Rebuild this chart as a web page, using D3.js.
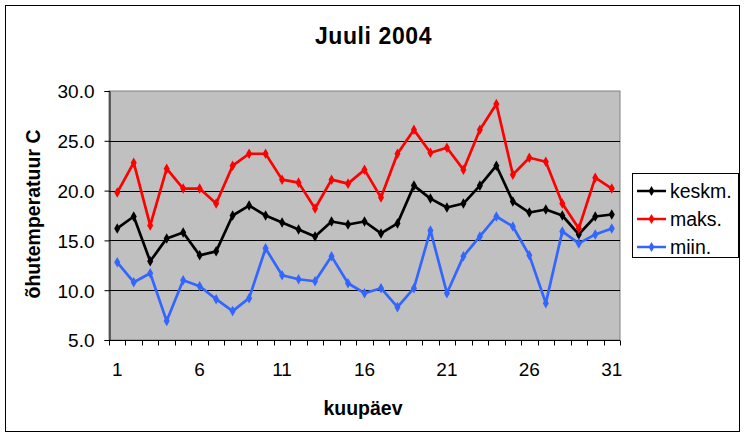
<!DOCTYPE html>
<html>
<head>
<meta charset="utf-8">
<script src="https://cdn.jsdelivr.net/npm/d3@7"></script>
<style>
html,body{margin:0;padding:0;background:#fff;}
svg{display:block;font-family:"Liberation Sans",Arial,sans-serif;}
</style>
</head>
<body>
<svg id="chart" width="748" height="437"></svg>
<script>
const days = d3.range(1, 32);
const xTickLabels = [1, 6, 11, 16, 21, 26, 31];
const yTicks = [5, 10, 15, 20, 25, 30];
const keskm = [16.2,17.4,12.9,15.2,15.8,13.5,13.9,17.5,18.5,17.5,16.8,16.1,15.4,16.9,16.6,16.9,15.7,16.7,20.5,19.2,18.3,18.7,20.5,22.5,18.9,17.8,18.1,17.5,15.6,17.4,17.6];
const maks = [19.8,22.8,16.5,22.2,20.2,20.2,18.7,22.5,23.7,23.7,21.1,20.8,18.2,21.1,20.7,22.1,19.3,23.7,26.1,23.8,24.3,22.1,26.1,28.7,21.6,23.3,22.9,18.7,16.2,21.3,20.2];
const miin = [12.8,10.8,11.7,6.9,11.0,10.4,9.1,7.9,9.2,14.2,11.5,11.1,10.9,13.4,10.7,9.7,10.2,8.3,10.2,16.0,9.7,13.4,15.4,17.4,16.4,13.5,8.7,15.9,14.7,15.6,16.2];
const seriesNames = ["keskm.", "maks.", "miin."];
const seriesColors = ["#000000", "#ff0000", "#3366ff"];
const seriesData = [keskm, maks, miin];

const svg = d3.select("#chart");
const plot = {left: 109, right: 620, top: 91, bottom: 340};

// outer border
svg.append("rect").attr("x", 5.5).attr("y", 5.5).attr("width", 734).attr("height", 426)
  .attr("fill", "#fff").attr("stroke", "#000").attr("stroke-width", 1);

const x = d3.scaleBand().domain(days).range([plot.left, plot.right]).padding(0);
const y = d3.scaleLinear().domain([5, 30]).range([plot.bottom, plot.top]);

// plot area
svg.append("rect").attr("x", plot.left).attr("y", plot.top)
  .attr("width", plot.right - plot.left).attr("height", plot.bottom - plot.top)
  .attr("fill", "#c0c0c0").attr("stroke", "#808080").attr("stroke-width", 1);

// gridlines
svg.append("g").selectAll("line").data(yTicks.filter(v => v > 5 && v < 30)).join("line")
  .attr("x1", plot.left).attr("x2", plot.right)
  .attr("y1", d => Math.round(y(d)) + 0.5).attr("y2", d => Math.round(y(d)) + 0.5)
  .attr("stroke", "#000").attr("stroke-width", 1);

// y axis
const yAxis = d3.axisLeft(y).tickValues(yTicks).tickSize(5).tickPadding(10)
  .tickFormat(d3.format(".1f"));
const gy = svg.append("g").attr("transform", `translate(${plot.left + 0.5},0)`).call(yAxis);
gy.select(".domain").attr("stroke", "#000");
gy.selectAll(".tick text").attr("font-size", 19).attr("fill", "#000").attr("dy", "0.36em");
gy.selectAll(".tick line").attr("stroke", "#000");

// x axis: ticks between categories
const gx = svg.append("g").attr("transform", `translate(0,${plot.bottom + 0.5})`);
gx.append("line").attr("x1", plot.left).attr("x2", plot.right).attr("stroke", "#000");
const boundaries = days.map(d => x(d)).concat([x(31) + x.bandwidth()]);
gx.selectAll(".tk").data(boundaries).join("line").attr("class", "tk")
  .attr("x1", d => Math.round(d) + 0.5).attr("x2", d => Math.round(d) + 0.5)
  .attr("y1", 0).attr("y2", 5).attr("stroke", "#000");
gx.selectAll("text").data(xTickLabels).join("text")
  .attr("x", d => x(d) + x.bandwidth() / 2).attr("y", 35)
  .attr("text-anchor", "middle").attr("font-size", 19).attr("fill", "#000")
  .text(d => d);

// lines and markers
const line = d3.line().x((d, i) => x(days[i]) + x.bandwidth() / 2).y(d => y(d));
seriesData.forEach((data, si) => {
  const g = svg.append("g");
  g.append("path").datum(data).attr("d", line).attr("fill", "none")
    .attr("stroke", seriesColors[si]).attr("stroke-width", 2.7).attr("stroke-linejoin", "round");
  g.selectAll("path.m").data(data).join("path").attr("class", "m")
    .attr("d", d3.symbol(d3.symbolDiamond, 32))
    .attr("transform", (d, i) => `translate(${x(days[i]) + x.bandwidth() / 2},${y(d)})`)
    .attr("fill", seriesColors[si]);
});

// title
svg.append("text").attr("x", 373.5).attr("y", 44).attr("text-anchor", "middle")
  .attr("font-size", 23).attr("letter-spacing", 0.6).attr("font-weight", "bold").attr("fill", "#000").text("Juuli 2004");

// axis titles
svg.append("text").attr("x", 363).attr("y", 415).attr("text-anchor", "middle")
  .attr("font-size", 19.5).attr("font-weight", "bold").attr("fill", "#000").text("kuupäev");
svg.append("text").attr("transform", "translate(40,214) rotate(-90)").attr("text-anchor", "middle")
  .attr("font-size", 19.5).attr("font-weight", "bold").attr("fill", "#000").text("õhutemperatuur C");

// legend
const lg = svg.append("g");
lg.append("rect").attr("x", 632.5).attr("y", 173.5).attr("width", 106).attr("height", 84)
  .attr("fill", "#fff").attr("stroke", "#000");
const legY = [191, 219, 247];
seriesNames.forEach((name, i) => {
  lg.append("line").attr("x1", 637).attr("x2", 666).attr("y1", legY[i]).attr("y2", legY[i])
    .attr("stroke", seriesColors[i]).attr("stroke-width", 2.5);
  lg.append("path").attr("d", d3.symbol(d3.symbolDiamond, 30))
    .attr("transform", `translate(651.5,${legY[i]})`).attr("fill", seriesColors[i]);
  lg.append("text").attr("x", 670).attr("y", legY[i]).attr("dy", "0.36em")
    .attr("font-size", 19.5).attr("fill", "#000").text(name);
});
</script>
</body>
</html>
